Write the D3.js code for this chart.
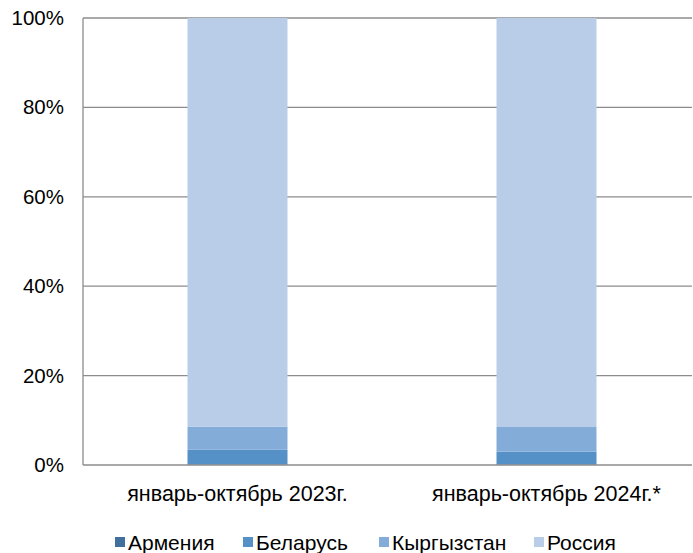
<!DOCTYPE html>
<html><head><meta charset="utf-8">
<script src="https://cdn.jsdelivr.net/npm/d3@7"></script>
<style>body{margin:0;background:#fff}svg{display:block}text{font-family:"Liberation Sans",Arial,sans-serif}</style>
</head><body><svg id="c" width="693" height="553"></svg>
<script>
const categories = ["январь-октябрь 2023г.", "январь-октябрь 2024г.*"];
const seriesNames = ["Армения", "Беларусь", "Кыргызстан", "Россия"];
const armenia = [0.1, 0.1];
const belarus = [3.3, 2.9];
const kyrgyzstan = [5.2, 5.5];
const russia = [91.4, 91.5];
const yTicks = [0, 20, 40, 60, 80, 100];
const colors = ["#41709f", "#5590c6", "#84acd9", "#b9cde8"];

const svg = d3.select("#c");
const m = {l: 83, r: 692, t: 18, b: 465};
const x = d3.scaleBand().domain(categories).range([m.l, m.l + 618]).paddingInner(0.6764).paddingOuter(0.3382);
const y = d3.scaleLinear().domain([0, 100]).range([m.b, m.t]);

// grid
svg.append("g").selectAll("line").data(yTicks.filter(d => d > 0)).join("line")
  .attr("x1", m.l).attr("x2", m.r).attr("y1", d => y(d)).attr("y2", d => y(d))
  .attr("stroke", "#8c8c8c").attr("stroke-width", 1.3);

const data = categories.map((c, i) => ({cat: c, "Армения": armenia[i], "Беларусь": belarus[i], "Кыргызстан": kyrgyzstan[i], "Россия": russia[i]}));
const stack = d3.stack().keys(seriesNames)(data);
svg.append("g").selectAll("g").data(stack).join("g").attr("fill", (d, i) => colors[i])
  .selectAll("rect").data(d => d).join("rect")
  .attr("x", d => x(d.data.cat)).attr("width", x.bandwidth())
  .attr("y", d => y(d[1])).attr("height", d => y(d[0]) - y(d[1]));

// axes lines
svg.append("line").attr("x1", m.l).attr("x2", m.l).attr("y1", m.t).attr("y2", m.b).attr("stroke", "#8c8c8c").attr("stroke-width", 1.3);
svg.append("line").attr("x1", m.l).attr("x2", m.r).attr("y1", m.b).attr("y2", m.b).attr("stroke", "#8c8c8c").attr("stroke-width", 1.5);

// y labels
svg.append("g").selectAll("text").data(yTicks).join("text")
  .attr("x", 64).attr("y", d => y(d) + 7).attr("text-anchor", "end")
  .attr("font-size", 20.5).attr("fill", "#000").text(d => d + "%");

// x labels
svg.append("g").selectAll("text").data(categories).join("text")
  .attr("x", d => x(d) + x.bandwidth() / 2).attr("y", 501).attr("text-anchor", "middle")
  .attr("font-size", 21.5).attr("fill", "#000").text(d => d);

// legend
const legX = [128, 256, 392, 547];
const lg = svg.append("g").selectAll("g").data(seriesNames).join("g")
  .attr("transform", (d, i) => `translate(${legX[i]},550)`);
lg.append("rect").attr("x", -13).attr("y", -13).attr("width", 10).attr("height", 10).attr("fill", (d, i) => colors[i]);
lg.append("text").attr("x", 0).attr("y", 0).attr("font-size", 21).attr("fill", "#000").text(d => d);
</script></body></html>
